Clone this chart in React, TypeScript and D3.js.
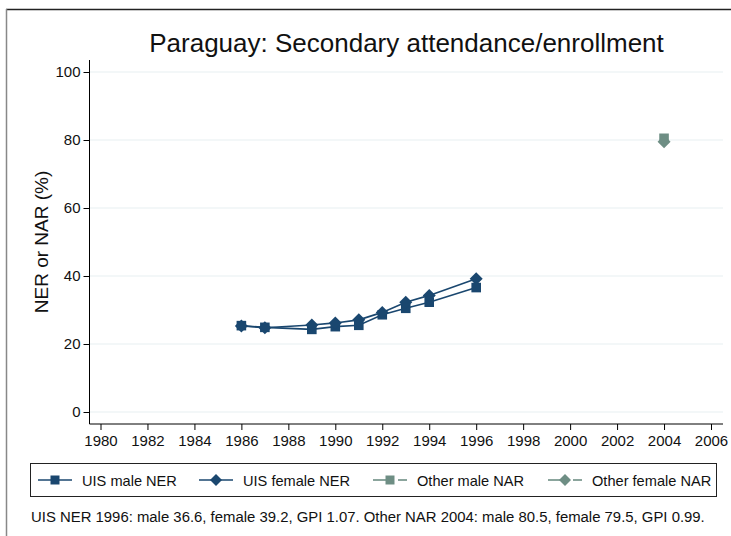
import React, { useEffect, useRef } from 'react';
import * as d3 from 'd3';

const NAVY = '#1a476f';
const TEAL = '#6e8e84';

const uisYears = [1986, 1987, 1989, 1990, 1991, 1992, 1993, 1994, 1996];
const uisMale = [25.4, 24.9, 24.3, 25.1, 25.5, 28.6, 30.5, 32.3, 36.6];
const uisFemale = [25.3, 24.8, 25.6, 26.2, 27.1, 29.3, 32.3, 34.3, 39.2];
const otherYears = [2004];
const otherMale = [80.5];
const otherFemale = [79.5];

const xTicks = d3.range(1980, 2007, 2);
const yTicks = [0, 20, 40, 60, 80, 100];

const legendItems = [
  { label: 'UIS male NER', color: NAVY, shape: 'square', dashed: false, x: 38 },
  { label: 'UIS female NER', color: NAVY, shape: 'diamond', dashed: false, x: 199 },
  { label: 'Other male NAR', color: TEAL, shape: 'square', dashed: true, x: 373 },
  { label: 'Other female NAR', color: TEAL, shape: 'diamond', dashed: true, x: 548 },
];

const FONT = '"Liberation Sans", Arial, Helvetica, sans-serif';

// Stata-like markers: square and a 45° rotated square
const squarePath = (s: number) => `M${-s},${-s}H${s}V${s}H${-s}Z`;
const diamondPath = (r: number) => `M0,${-r}L${r},0L0,${r}L${-r},0Z`;

export default function App() {
  const svgRef = useRef<SVGSVGElement>(null);

  useEffect(() => {
    const width = 731;
    const height = 536;
    const svg = d3.select(svgRef.current);
    svg.selectAll('*').remove();
    svg.attr('width', width).attr('height', height).style('font-family', FONT);

    svg.append('rect').attr('width', width).attr('height', height).attr('fill', 'white');
    // outer frame (top + left visible)
    svg.append('line').attr('x1', 6).attr('x2', width).attr('y1', 9.5).attr('y2', 9.5)
      .attr('stroke', '#222').attr('stroke-width', 1.5);
    svg.append('line').attr('x1', 6.5).attr('x2', 6.5).attr('y1', 9).attr('y2', height)
      .attr('stroke', '#888').attr('stroke-width', 1.5);

    const plot = { left: 89.5, right: 723, top: 60, bottom: 424 };
    const x = d3.scaleLinear().domain([1980, 2006]).range([100.5, 711]);
    const y = d3.scaleLinear().domain([0, 100]).range([412, 72]);

    // title
    svg.append('text').attr('x', 406.5).attr('y', 52).attr('text-anchor', 'middle')
      .style('font-size', '26px').style('fill', '#111')
      .text('Paraguay: Secondary attendance/enrollment');

    // gridlines
    yTicks.forEach(t => {
      svg.append('line').attr('x1', plot.left).attr('x2', plot.right)
        .attr('y1', y(t)).attr('y2', y(t)).attr('stroke', '#e8eff2').attr('stroke-width', 1.2);
    });

    // axes
    const yAxis = svg.append('g').attr('transform', `translate(${plot.left},0)`)
      .call(d3.axisLeft(y).tickValues(yTicks).tickSize(6).tickPadding(3));
    yAxis.select('.domain').attr('d', `M0,${plot.top}V${plot.bottom}`).attr('stroke', '#000');
    yAxis.selectAll('text').style('font-size', '15px').style('font-family', FONT).attr('fill', '#111');

    const xAxis = svg.append('g').attr('transform', `translate(0,${plot.bottom})`)
      .call(d3.axisBottom(x).tickValues(xTicks).tickFormat(d3.format('d')).tickSize(6).tickPadding(5));
    xAxis.select('.domain').attr('d', `M${plot.left},0H${plot.right}`).attr('stroke', '#000');
    xAxis.selectAll('text').style('font-size', '15px').style('font-family', FONT).attr('fill', '#111');

    svg.append('text')
      .attr('transform', `translate(48,${(y(0) + y(100)) / 2}) rotate(-90)`)
      .attr('text-anchor', 'middle').style('font-size', '19px').style('fill', '#111')
      .text('NER or NAR (%)');

    const line = d3.line<[number, number]>().x(d => x(d[0])).y(d => y(d[1]));

    const drawSeries = (years: number[], vals: number[], color: string, shape: string) => {
      const pts = years.map((yr, i) => [yr, vals[i]] as [number, number]);
      svg.append('path').datum(pts).attr('d', line).attr('fill', 'none')
        .attr('stroke', color).attr('stroke-width', 1.6);
      svg.selectAll(null).data(pts).enter().append('path')
        .attr('d', shape === 'square' ? squarePath(4.8) : diamondPath(6.5))
        .attr('transform', d => `translate(${x(d[0])},${y(d[1])})`)
        .attr('fill', color);
    };
    drawSeries(uisYears, uisMale, NAVY, 'square');
    drawSeries(uisYears, uisFemale, NAVY, 'diamond');
    drawSeries(otherYears, otherMale, TEAL, 'square');
    drawSeries(otherYears, otherFemale, TEAL, 'diamond');

    // legend
    svg.append('rect').attr('x', 30.5).attr('y', 463.5).attr('width', 686).attr('height', 33)
      .attr('fill', 'white').attr('stroke', '#222').attr('stroke-width', 1);
    const ly = 480;
    legendItems.forEach(it => {
      const x1 = it.x;
      const x2 = it.x + 34;
      const mid = (x1 + x2) / 2;
      if (it.dashed) {
        svg.append('line').attr('x1', x1).attr('x2', mid).attr('y1', ly).attr('y2', ly)
          .attr('stroke', it.color).attr('stroke-width', 1.6);
        svg.append('line').attr('x1', mid + 8).attr('x2', x2).attr('y1', ly).attr('y2', ly)
          .attr('stroke', it.color).attr('stroke-width', 1.6);
      } else {
        svg.append('line').attr('x1', x1).attr('x2', x2).attr('y1', ly).attr('y2', ly)
          .attr('stroke', it.color).attr('stroke-width', 1.6);
      }
      svg.append('path').attr('d', it.shape === 'square' ? squarePath(4.5) : diamondPath(6))
        .attr('transform', `translate(${mid},${ly})`).attr('fill', it.color);
      svg.append('text').attr('x', x2 + 10).attr('y', ly + 5.5)
        .style('font-size', '14.6px').style('fill', '#111').text(it.label);
    });

    svg.append('text').attr('x', 31).attr('y', 522)
      .style('font-size', '14.9px').style('fill', '#111')
      .text('UIS NER 1996: male 36.6, female 39.2, GPI 1.07. Other NAR 2004: male 80.5, female 79.5, GPI 0.99.');
  }, []);

  return (
    <div style={{ position: 'absolute', left: 0, top: 0 }}>
      <svg ref={svgRef} style={{ display: 'block' }}></svg>
    </div>
  );
}
